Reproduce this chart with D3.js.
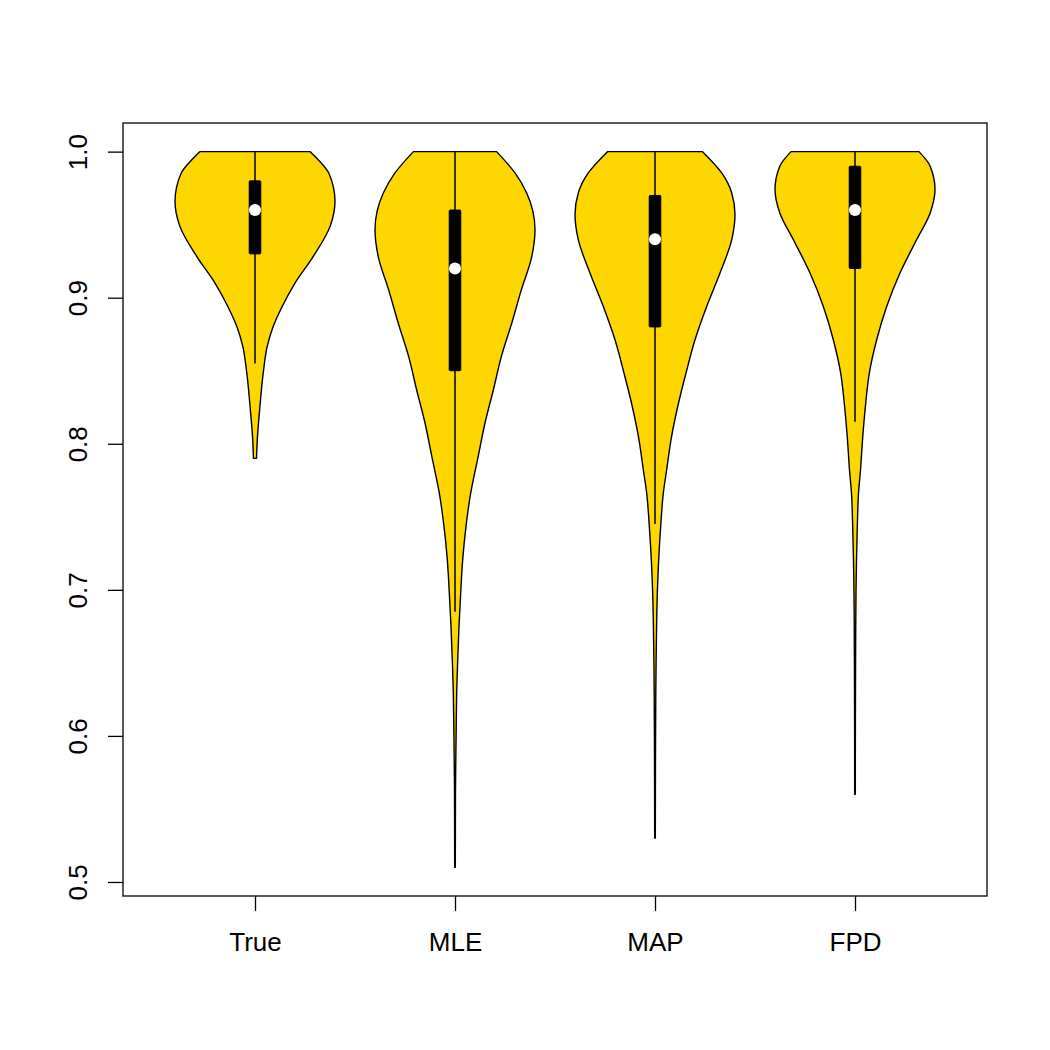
<!DOCTYPE html>
<html>
<head>
<meta charset="utf-8">
<script src="https://cdn.jsdelivr.net/npm/d3@7"></script>
<style>
  html, body { margin: 0; padding: 0; background: #fff; }
  svg { display: block; }
  text { font-family: "Liberation Sans", Arial, Helvetica, sans-serif; }
</style>
</head>
<body>
<div id="chart"></div>
<script>
// ---------- data ----------
const categories = ["True", "MLE", "MAP", "FPD"];
const yTicks = [0.5, 0.6, 0.7, 0.8, 0.9, 1.0];

// box statistics
const mins        = [0.79, 0.51, 0.53, 0.56];
const maxs        = [1.0, 1.0, 1.0, 1.0];
const q1          = [0.93, 0.85, 0.88, 0.92];
const q3          = [0.98, 0.96, 0.97, 0.99];
const medians     = [0.96, 0.92, 0.94, 0.96];
const whiskerLow  = [0.855, 0.685, 0.745, 0.815];
const whiskerHigh = [1.0, 1.0, 1.0, 1.0];

// kernel density profiles: [value, density relative to that violin's max]
const densityTrue = [[1.0,0.69],[0.9945,0.79],[0.985,0.925],[0.966,1.0],[0.949,0.94],[0.928,0.725],
  [0.910,0.5],[0.894,0.34],[0.880,0.225],[0.867,0.154],[0.849,0.104],[0.826,0.0625],[0.803,0.029],[0.790,0.019]];
const densityMLE = [[1.0,0.52],[0.9854,0.75],[0.9717,0.896],[0.9466,1.0],[0.9283,0.96],[0.9055,0.83],
  [0.8827,0.71],[0.8598,0.58],[0.837,0.48],[0.8142,0.375],[0.7913,0.29],[0.7662,0.196],[0.7434,0.1375],
  [0.7205,0.096],[0.6977,0.071],[0.6749,0.05],[0.652,0.034],[0.6295,0.021],[0.6064,0.015],[0.5836,0.01],
  [0.561,0.006],[0.51,0.004]];
const densityMAP = [[1.0,0.594],[0.9854,0.834],[0.9717,0.959],[0.9568,1.0],[0.9397,0.959],[0.9169,0.8125],
  [0.894,0.646],[0.8712,0.5],[0.8484,0.3875],[0.8255,0.284],[0.8027,0.2],[0.7822,0.146],[0.7662,0.104],
  [0.7434,0.071],[0.7205,0.046],[0.6977,0.029],[0.6749,0.02],[0.652,0.014],[0.6295,0.01],[0.5836,0.006],[0.53,0.004]];
const densityFPD = [[1.0,0.80],[0.990,0.94],[0.974,1.0],[0.958,0.94],[0.9397,0.77],[0.9169,0.5625],
  [0.894,0.396],[0.8712,0.271],[0.8484,0.179],[0.8255,0.13],[0.8027,0.094],[0.7822,0.069],[0.7662,0.044],
  [0.7434,0.029],[0.7205,0.019],[0.698,0.0125],[0.652,0.0075],[0.6064,0.005],[0.56,0.004]];
const densities = [densityTrue, densityMLE, densityMAP, densityFPD];

// ---------- layout ----------
const W = 1050, H = 1050;
const plot = { left: 123, right: 987, top: 123, bottom: 896 };
const fontSize = 26;

const svg = d3.select("#chart").append("svg").attr("width", W).attr("height", H);

const x = d3.scaleLinear().domain([0.34, 4.66]).range([plot.left, plot.right]);
const y = d3.scaleLinear().domain([0.4904, 1.0196]).range([plot.bottom, plot.top]);
const halfWidth = d3.scaleLinear().domain([0, 1]).range([0, 0.4]); // in x units
const boxHalf = 0.029;

// violins
const area = d3.area()
  .curve(d3.curveMonotoneY);

densities.forEach((dens, i) => {
  const c = i + 1;
  const a = d3.area()
    .y(d => y(d[0]))
    .x0(d => x(c - halfWidth(d[1])))
    .x1(d => x(c + halfWidth(d[1])))
    .curve(d3.curveMonotoneY);
  svg.append("path")
    .attr("d", a(dens))
    .attr("fill", "#FFD700")
    .attr("stroke", "#000")
    .attr("stroke-width", 1.4)
    .attr("stroke-linejoin", "round");
});

// whiskers
svg.selectAll("line.whisker").data(categories).enter().append("line")
  .attr("class", "whisker")
  .attr("x1", (d, i) => x(i + 1)).attr("x2", (d, i) => x(i + 1))
  .attr("y1", (d, i) => y(whiskerLow[i])).attr("y2", (d, i) => y(whiskerHigh[i]))
  .attr("stroke", "#000").attr("stroke-width", 1.5);

// boxes
svg.selectAll("rect.box").data(categories).enter().append("rect")
  .attr("class", "box")
  .attr("x", (d, i) => x(i + 1 - boxHalf))
  .attr("width", (d, i) => x(i + 1 + boxHalf) - x(i + 1 - boxHalf))
  .attr("y", (d, i) => y(q3[i]))
  .attr("height", (d, i) => y(q1[i]) - y(q3[i]))
  .attr("fill", "#000").attr("stroke", "#000").attr("stroke-width", 1)
  .attr("rx", 1);

// medians
svg.selectAll("circle.med").data(categories).enter().append("circle")
  .attr("class", "med")
  .attr("cx", (d, i) => x(i + 1))
  .attr("cy", (d, i) => y(medians[i]))
  .attr("r", 6)
  .attr("fill", "#fff");

// frame
svg.append("rect")
  .attr("x", plot.left).attr("y", plot.top)
  .attr("width", plot.right - plot.left).attr("height", plot.bottom - plot.top)
  .attr("fill", "none").attr("stroke", "#000").attr("stroke-width", 1.3);

// y axis
const yAxis = svg.append("g")
  .attr("transform", `translate(${plot.left},0)`)
  .call(d3.axisLeft(y).tickValues(yTicks).tickSize(15).tickFormat(d3.format(".1f")));
yAxis.select(".domain").remove();
yAxis.selectAll(".tick line").attr("stroke", "#000").attr("stroke-width", 1.3);
yAxis.selectAll(".tick text")
  .attr("x", 0).attr("y", 0).attr("dy", 0)
  .attr("text-anchor", "middle")
  .attr("transform", "translate(-36,0) rotate(-90)")
  .attr("font-size", fontSize)
  .attr("font-family", "Liberation Sans, Arial, sans-serif")
  .attr("fill", "#000");

// x axis
const xAxis = svg.append("g")
  .attr("transform", `translate(0,${plot.bottom})`)
  .call(d3.axisBottom(x).tickValues([1, 2, 3, 4]).tickSize(15).tickFormat((d, i) => categories[i]));
xAxis.select(".domain").remove();
xAxis.selectAll(".tick line").attr("stroke", "#000").attr("stroke-width", 1.3);
xAxis.selectAll(".tick text")
  .attr("y", 55).attr("dy", 0)
  .attr("text-anchor", "middle")
  .attr("font-size", fontSize)
  .attr("font-family", "Liberation Sans, Arial, sans-serif")
  .attr("fill", "#000");
</script>
</body>
</html>
